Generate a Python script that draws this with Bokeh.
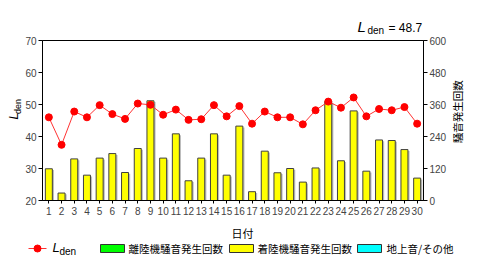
import math
from bokeh.plotting import figure
from bokeh.layouts import row, column
from bokeh.models import Range1d, LinearAxis, Label, BoxAnnotation, FixedTicker
from bokeh.embed import file_html
from bokeh.resources import INLINE

days = list(range(1, 31))
lden = [46.0, 37.4, 47.8, 46.0, 49.8, 47.0, 45.5, 50.3, 49.9, 46.8,
        48.4, 45.2, 45.4, 49.8, 46.3, 49.5, 44.0, 47.8, 46.0, 46.0,
        43.8, 48.2, 50.9, 49.0, 52.2, 46.3, 48.6, 48.2, 49.2, 44.0]
landing = [119, 28, 156, 95, 159, 176, 105, 195, 374, 159,
           250, 74, 159, 250, 95, 279, 33, 185, 104, 120,
           69, 122, 371, 149, 336, 110, 227, 225, 191, 84]
left_ticks = [20, 30, 40, 50, 60, 70]
right_ticks = [0, 120, 240, 360, 480, 600]
lden_total = "48.7"
legend_labels = ["離陸機騒音発生回数", "着陸機騒音発生回数", "地上音/その他"]
legend_colors = ["#00FF00", "#FFFF00", "#00FFFF"]
x_title = "日付"
right_title = "騒音発生回数"

JP = "Noto Sans CJK JP"
NUM = "Liberation Sans"
RED = "#FF0000"


def strip(w, h):
    f = figure(width=w, height=h, x_range=Range1d(0, w), y_range=Range1d(h, 0),
               x_axis_type=None, y_axis_type=None, output_backend="svg",
               toolbar_location=None, min_border=0, min_border_left=0, min_border_right=0,
               min_border_top=0, min_border_bottom=0)
    f.outline_line_color = None
    f.background_fill_color = "white"
    f.border_fill_color = "white"
    return f


def lab(f, text, x, y, size, font=JP, style="normal", angle=0, align="left"):
    f.add_layout(Label(x=x, y=y, text=text, text_font=font, text_font_size=size,
                       text_font_style=style, angle=angle, text_align=align,
                       text_baseline="middle", text_color="black"))


# ---------------- main chart ----------------
p = figure(width=427, height=184, x_range=Range1d(0.5, 30.5), y_range=Range1d(20, 70),
           output_backend="svg", toolbar_location=None,
           min_border_left=18, min_border_right=25, min_border_top=4, min_border_bottom=20)
p.extra_y_ranges = {"cnt": Range1d(0, 600)}
p.grid.visible = False
p.outline_line_color = "black"
p.background_fill_color = "white"
p.border_fill_color = "white"

p.xaxis.ticker = FixedTicker(ticks=days)
p.xaxis.major_label_text_font = NUM
p.xaxis.major_label_text_font_size = "10px"
p.xaxis.major_tick_in = 0
p.xaxis.major_tick_out = 3
p.xaxis.minor_tick_line_color = None
p.xaxis.axis_line_color = "black"
p.xaxis.major_tick_line_color = "black"
p.xaxis.major_label_standoff = 3

p.yaxis.ticker = FixedTicker(ticks=left_ticks)
p.yaxis.major_label_text_font = NUM
p.yaxis.major_label_text_font_size = "10px"
p.yaxis.major_tick_in = 0
p.yaxis.major_tick_out = 4
p.yaxis.major_label_standoff = 2
p.yaxis.minor_tick_line_color = None
p.yaxis.axis_line_color = "black"
p.yaxis.major_tick_line_color = "black"

ra = LinearAxis(y_range_name="cnt", ticker=FixedTicker(ticks=right_ticks))
ra.major_label_text_font = NUM
ra.major_label_text_font_size = "10px"
ra.major_tick_in = 0
ra.major_tick_out = 4
ra.major_label_standoff = 2
ra.minor_tick_line_color = None
ra.axis_line_color = "black"
ra.major_tick_line_color = "black"
p.add_layout(ra, "right")

# bar shadow + bars
p.vbar(x=[d + 0.13 for d in days], top=[v - 5 for v in landing], width=0.55, bottom=0,
       y_range_name="cnt", fill_color="#BDBDBD", line_color=None)
p.vbar(x=days, top=landing, width=0.55, bottom=0, y_range_name="cnt",
       fill_color="#FFFF00", line_color="#404040", line_width=1)

# Lden line
p.line(days, lden, line_color="#FF3333", line_width=1)
p.scatter(days, lden, size=7, fill_color=RED, line_color=RED)

# ---------------- top strip (title) ----------------
top = strip(480, 36)
lab(top, "L", 357, 26, "15px", font=NUM, style="italic")
lab(top, "den", 367, 30, "10px", font=NUM)
lab(top, "= " + lden_total, 388, 27.5, "12px", font=NUM)

# ---------------- left strip (left axis title) ----------------
left = strip(22, 184)
lab(left, "L", 13, 87, "12px", font=NUM, style="italic", angle=math.pi / 2, align="center")
lab(left, "den", 17, 76, "9px", font=NUM, angle=math.pi / 2, align="center")

# ---------------- right strip (right axis title) ----------------
right = strip(31, 184)
lab(right, right_title, 8, 82, "10.5px", angle=math.pi / 2, align="center")

# ---------------- bottom strip (x title + legend) ----------------
bot = strip(480, 43)
lab(bot, x_title, 242, 12, "11px", align="center")
ly = 28
bot.line([28, 46], [ly, ly], line_color="#FF3333", line_width=1)
bot.scatter([37], [ly], size=7, fill_color=RED, line_color=RED)
lab(bot, "L", 52, ly - 1, "13px", font=NUM, style="italic")
lab(bot, "den", 59, ly + 3, "10px", font=NUM)

box_x = [100, 229, 357]
text_x = [128, 257, 386]
for bx, tx, txt, col in zip(box_x, text_x, legend_labels, legend_colors):
    bot.add_layout(BoxAnnotation(left=bx, right=bx + 24, bottom=ly + 4, top=ly - 4,
                                 fill_color=col, fill_alpha=1, line_color="#333333",
                                 line_width=1, line_alpha=1))
    lab(bot, txt, tx, ly, "10.5px")

layout = column(top, row(left, p, right), bot)
open("out.html", "w").write(file_html(layout, INLINE))
